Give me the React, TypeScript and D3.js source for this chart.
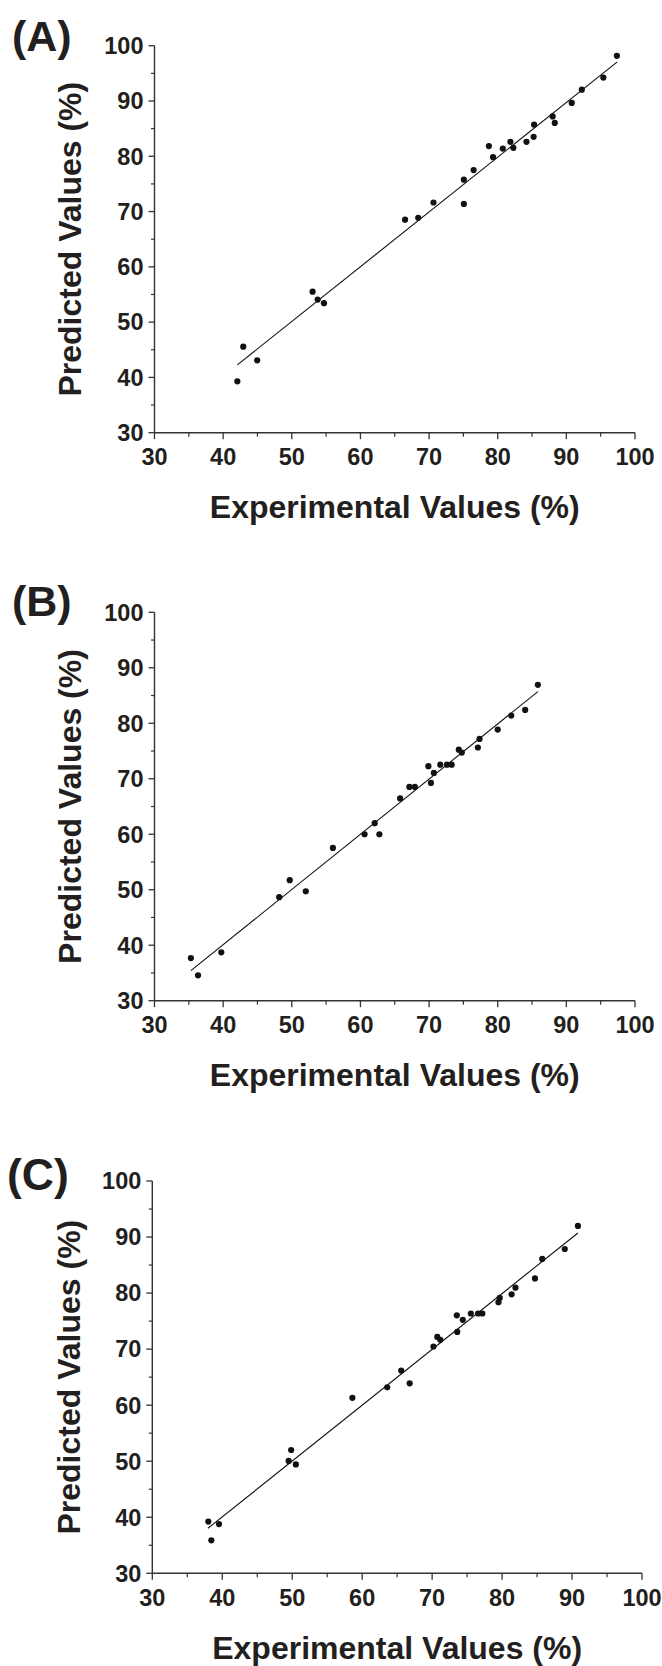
import React from "react";
import * as d3 from "d3";

// ---------- data ----------
const aExp = [42.07, 42.93, 44.96, 53.03, 53.77, 54.69, 66.5, 68.42, 70.64, 75.07, 75.07, 76.49, 78.71, 79.32, 80.74, 81.85, 82.28, 84.19, 85.23, 85.3, 88.0, 88.31, 90.78, 92.25, 95.39, 97.36];
const aPred = [39.3, 45.56, 43.1, 55.5, 54.08, 53.43, 68.54, 68.86, 71.64, 75.77, 71.38, 77.51, 81.84, 79.84, 81.39, 82.61, 81.52, 82.61, 83.52, 85.71, 87.2, 86.04, 89.65, 92.04, 94.24, 98.17];
const aFit = [[42.07, 42.27], [97.42, 97.08]];

const bExp = [35.3, 36.34, 39.73, 48.17, 49.7, 52.04, 55.99, 60.6, 62.08, 62.76, 65.78, 67.13, 67.93, 69.9, 70.27, 70.7, 71.63, 72.61, 73.29, 74.33, 74.77, 77.11, 77.35, 80.0, 81.97, 84.0, 85.85];
const bPred = [37.68, 34.58, 38.71, 48.66, 51.73, 49.73, 57.54, 60.0, 62.0, 60.0, 66.46, 68.53, 68.53, 72.27, 69.24, 71.05, 72.53, 72.53, 72.53, 75.24, 74.72, 75.63, 77.18, 78.86, 81.38, 82.41, 86.93];
const bFit = [[35.3, 35.42], [85.85, 85.71]];

const cExp = [38.01, 38.44, 39.53, 49.49, 49.85, 50.52, 58.6, 63.58, 65.58, 66.79, 70.19, 70.74, 71.17, 73.53, 73.59, 74.38, 75.54, 76.57, 77.18, 79.48, 79.66, 81.36, 81.91, 84.7, 85.74, 88.96, 90.84];
const cPred = [39.23, 35.88, 38.79, 50.05, 52.0, 49.42, 61.31, 63.2, 66.17, 63.89, 70.47, 72.18, 71.67, 76.04, 73.07, 75.22, 76.36, 76.36, 76.36, 78.38, 79.14, 79.77, 80.97, 82.62, 86.1, 87.87, 91.98];
const cFit = [[37.95, 38.03], [90.84, 90.72]];

const panelLabels = ["(A)", "(B)", "(C)"];
const majorTicks = [30, 40, 50, 60, 70, 80, 90, 100];
const minorTicks = [35, 45, 55, 65, 75, 85, 95];
const xTitle = "Experimental Values (%)";
const yTitle = "Predicted Values (%)";

// ---------- layout ----------
const layouts = [
  { x0: 154.5, x1: 635, yTop: 45.7, yBot: 432.7, lx: 12, ly: 50.5, lfs: 43, ytx: 81, xtb: 518 },
  { x0: 154.5, x1: 635, yTop: 612.3, yBot: 1000.7, lx: 12, ly: 615.5, lfs: 43, ytx: 81, xtb: 1086 },
  { x0: 152.3, x1: 642, yTop: 1181, yBot: 1573.3, lx: 7, ly: 1189.5, lfs: 44.5, ytx: 80, xtb: 1658.5 },
];

const FONT = "'Liberation Sans', Arial, Helvetica, sans-serif";
const INK = "#231f20";
const AXIS = "#333";

function Panel({ idx, xs, ys, fit }: { idx: number; xs: number[]; ys: number[]; fit: number[][] }) {
  const L = layouts[idx];
  const x = d3.scaleLinear().domain([30, 100]).range([L.x0, L.x1]);
  const y = d3.scaleLinear().domain([30, 100]).range([L.yBot, L.yTop]);
  const tfs = 23.5;
  const line = d3.line<number[]>().x((d) => x(d[0])).y((d) => y(d[1]));
  return (
    <g>
      <text x={L.lx} y={L.ly} fontSize={L.lfs} fontWeight="bold" fill={INK} fontFamily={FONT}>
        {panelLabels[idx]}
      </text>
      {/* axes */}
      <line x1={L.x0} x2={L.x0} y1={L.yTop} y2={L.yBot} stroke={AXIS} strokeWidth={1.4} />
      <line x1={L.x0} x2={L.x1} y1={L.yBot} y2={L.yBot} stroke={AXIS} strokeWidth={1.4} />
      {majorTicks.map((t) => (
        <g key={"my" + t}>
          <line x1={L.x0 - 6} x2={L.x0} y1={y(t)} y2={y(t)} stroke={AXIS} strokeWidth={1.3} />
          <text x={L.x0 - 11} y={y(t) + tfs * 0.355} textAnchor="end" fontSize={tfs} fontWeight="bold" fill={INK} fontFamily={FONT}>
            {t}
          </text>
          <line x1={x(t)} x2={x(t)} y1={L.yBot} y2={L.yBot + 6.5} stroke={AXIS} strokeWidth={1.3} />
          <text x={x(t)} y={L.yBot + 32.5} textAnchor="middle" fontSize={tfs} fontWeight="bold" fill={INK} fontFamily={FONT}>
            {t}
          </text>
        </g>
      ))}
      {minorTicks.map((t) => (
        <g key={"mn" + t}>
          <line x1={L.x0 - 3.5} x2={L.x0} y1={y(t)} y2={y(t)} stroke={AXIS} strokeWidth={1.2} />
          <line x1={x(t)} x2={x(t)} y1={L.yBot} y2={L.yBot + 4} stroke={AXIS} strokeWidth={1.2} />
        </g>
      ))}
      {/* titles */}
      <text x={(L.x0 + L.x1) / 2} y={L.xtb} textAnchor="middle" fontSize={32} fontWeight="bold" fill={INK} fontFamily={FONT}>
        {xTitle}
      </text>
      <text
        transform={`translate(${L.ytx},${(L.yTop + L.yBot) / 2}) rotate(-90)`}
        textAnchor="middle"
        fontSize={32}
        fontWeight="bold"
        fill={INK}
        fontFamily={FONT}
      >
        {yTitle}
      </text>
      {/* fit line */}
      <path d={line(fit) || ""} fill="none" stroke="#111" strokeWidth={1.1} />
      {/* points */}
      {xs.map((v, i) => (
        <circle key={i} cx={x(v)} cy={y(ys[i])} r={3.1} fill="#111" />
      ))}
    </g>
  );
}

export default function App() {
  return (
    <svg
      width={662}
      height={1666}
      viewBox="0 0 662 1666"
      style={{ position: "absolute", left: 0, top: 0, background: "#fff", display: "block" }}
    >
      <rect x={0} y={0} width={662} height={1666} fill="#fff" />
      <Panel idx={0} xs={aExp} ys={aPred} fit={aFit} />
      <Panel idx={1} xs={bExp} ys={bPred} fit={bFit} />
      <Panel idx={2} xs={cExp} ys={cPred} fit={cFit} />
    </svg>
  );
}
